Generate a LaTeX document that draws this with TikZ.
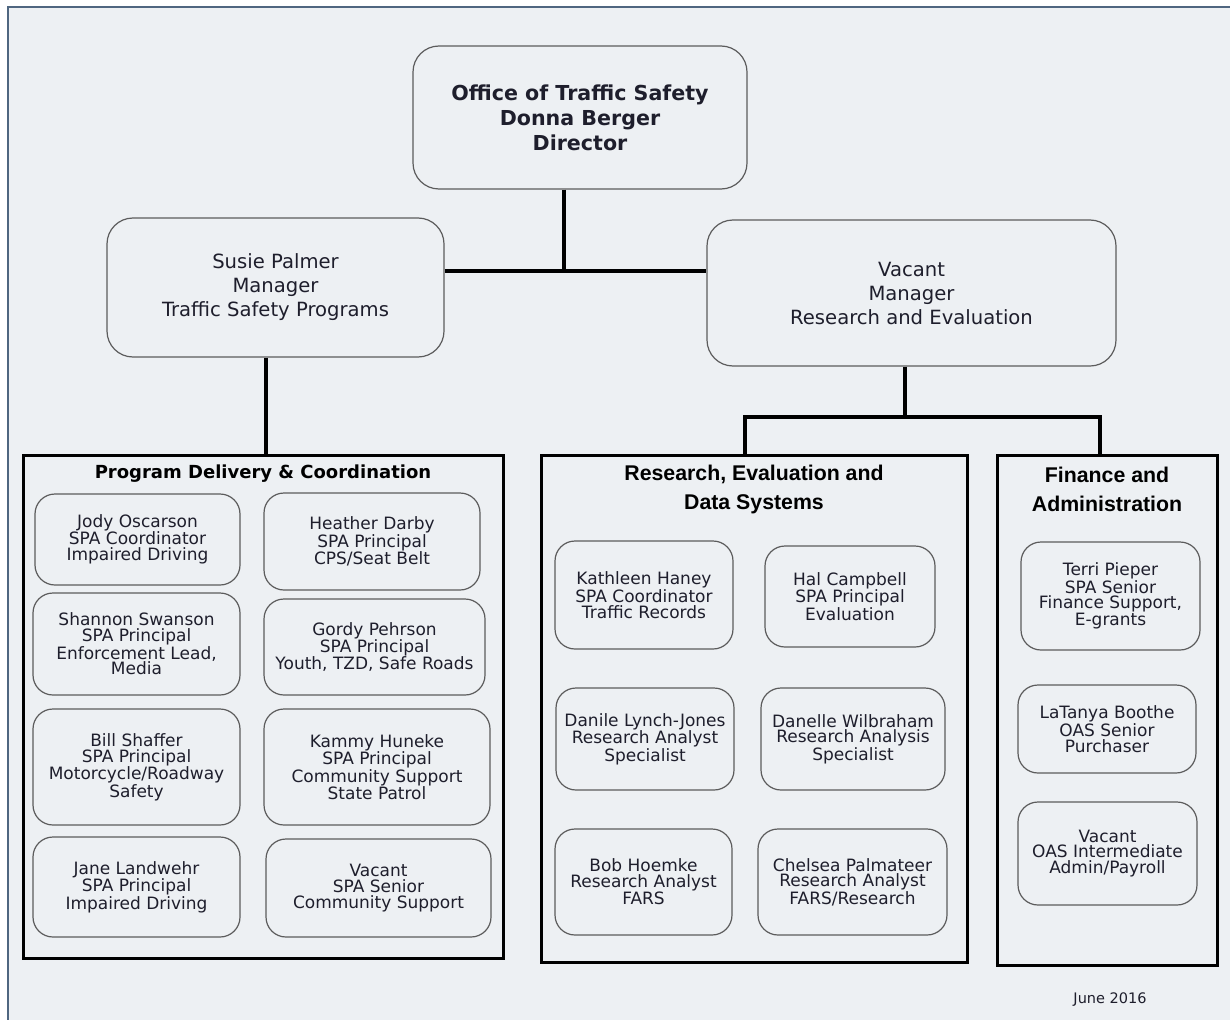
\documentclass[tikz,border=0pt]{standalone}
\usepackage{fontspec}
\setmainfont{DejaVu Sans}
\newfontfamily\headfont{Liberation Sans}
\definecolor{paper}{HTML}{EDF0F3}
\definecolor{rim}{HTML}{4F6680}
\definecolor{ink}{HTML}{1E1E2C}
\definecolor{edge}{HTML}{5C5C5C}
\tikzset{
    staff/.style={draw=edge, line width=1.2pt, rounded corners=20pt, fill=paper, inner sep=0pt,
        align=center, text=ink, font=\fontsize{17}{15.9}\selectfont}, % small boxes
    boss/.style={staff, rounded corners=26pt, font=\fontsize{19.6}{24}\selectfont}, % manager boxes
    unit/.style={draw=black, line width=3pt, inner sep=0pt}, % section frames
    unit title/.style={align=center, text=black, inner sep=0pt},
    link/.style={line width=4pt, black} % connectors
}
% name, centre x, centre y, width, height, text
\newcommand\staffbox[6]{\node[staff, minimum width=#4pt, minimum height=#5pt] (#1) at (#2,#3) {#6};}

\begin{document}
\begin{tikzpicture}[x=1pt, y=-1pt]
    \useasboundingbox[fill=white] (0,0) rectangle (1230,1019);
    \draw[rim, line width=2.5pt, fill=paper] (8,7) rectangle (1250,1040);

    % managers
    \node[boss, minimum width=334pt, minimum height=143pt, font=\bfseries\fontsize{20.6}{25}\selectfont] (ots) at (580,117.5)
        {Office of Traffic Safety\\Donna Berger\\Director};
    \node[boss, minimum width=337pt, minimum height=139pt] (tsp) at (275.5,287.5)
        {Susie Palmer\\Manager\\Traffic Safety Programs};
    \node[boss, minimum width=409pt, minimum height=146pt] (rev) at (911.5,293)
        {Vacant\\Manager\\Research and Evaluation};

    % sections
    \node[unit, minimum width=480pt, minimum height=503pt] (pdc) at (263,706.5) {};
    \node[unit, minimum width=426pt, minimum height=507pt] (reds) at (754,708.5) {};
    \node[unit, minimum width=220pt, minimum height=510pt] (fina) at (1107,710) {};

    \node[unit title, font=\bfseries\fontsize{18}{22}\selectfont] (pdct) at (263,474) {Program Delivery \& Coordination};
    \node[unit title, font=\headfont\bfseries\fontsize{21.3}{29}\selectfont] (redst) at (754,489.5) {Research, Evaluation and\\Data Systems};
    \node[unit title, font=\headfont\bfseries\fontsize{21.3}{29}\selectfont] (finat) at (1107,489.5) {Finance and\\Administration};

    % staff
    \staffbox{jody}{137.5}{539.5}{205}{91}{Jody Oscarson\\SPA Coordinator\\Impaired Driving}
    \staffbox{heather}{372}{541.5}{216}{97}{Heather Darby\\SPA Principal\\CPS/Seat Belt}
    \staffbox{shannon}{136.5}{644}{207}{102}{Shannon Swanson\\SPA Principal\\Enforcement Lead,\\Media}
    \staffbox{gordy}{374.5}{647}{221}{96}{Gordy Pehrson\\SPA Principal\\Youth, TZD, Safe Roads}
    \staffbox{bill}{136.5}{767}{207}{116}{Bill Shaffer\\SPA Principal\\Motorcycle/Roadway\\Safety}
    \staffbox{kammy}{377}{767}{226}{116}{Kammy Huneke\\SPA Principal\\Community Support\\State Patrol}
    \staffbox{jane}{136.5}{887}{207}{100}{Jane Landwehr\\SPA Principal\\Impaired Driving}
    \staffbox{vacsup}{378.5}{888}{225}{98}{Vacant\\SPA Senior\\Community Support}
    \staffbox{kathleen}{644}{595}{178}{108}{Kathleen Haney\\SPA Coordinator\\Traffic Records}
    \staffbox{hal}{850}{596.5}{170}{101}{Hal Campbell\\SPA Principal\\Evaluation}
    \staffbox{danile}{645}{739}{178}{102}{Danile Lynch-Jones\\Research Analyst\\Specialist}
    \staffbox{danelle}{853}{739}{184}{102}{Danelle Wilbraham\\Research Analysis\\Specialist}
    \staffbox{bob}{643.5}{882}{177}{106}{Bob Hoemke\\Research Analyst\\FARS}
    \staffbox{chelsea}{852.5}{882}{189}{106}{Chelsea Palmateer\\Research Analyst\\FARS/Research}
    \staffbox{terri}{1110.5}{596}{179}{108}{Terri Pieper\\SPA Senior\\Finance Support,\\E-grants}
    \staffbox{latanya}{1107}{729}{178}{88}{LaTanya Boothe\\OAS Senior\\Purchaser}
    \staffbox{vacadm}{1107.5}{853.5}{179}{103}{Vacant\\OAS Intermediate\\Admin/Payroll}

    % connectors
    \coordinate (jtop) at (564,271);
    \coordinate (jtsp) at (266,0);
    \coordinate (jrev) at (905,417);
    \coordinate (jreds) at (745,417);
    \coordinate (jfina) at (1100,417);
    \draw[link] (ots.south -| jtop) -- (jtop);
    \draw[link] (tsp.east |- jtop) -- (rev.west |- jtop);
    \draw[link] (tsp.south -| jtsp) -- (pdc.north -| jtsp);
    \draw[link] (rev.south -| jrev) -- (jrev);
    \draw[link] (reds.north -| jreds) -- (jreds) -- (jfina) -- (fina.north -| jfina);

    \node[text=ink, font=\fontsize{14.5}{16}\selectfont] (date) at (1110,1000) {June 2016};
\end{tikzpicture}
\end{document}
